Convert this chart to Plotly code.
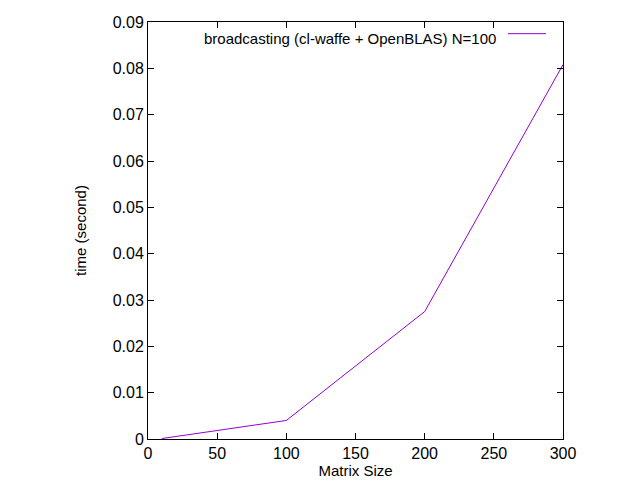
import plotly.graph_objects as go

matrix_size = [10, 100, 200, 300]
time_sec = [0.0001, 0.004, 0.0275, 0.0808]
y_ticks = [0, 0.01, 0.02, 0.03, 0.04, 0.05, 0.06, 0.07, 0.08, 0.09]
y_labels = ["0", "0.01", "0.02", "0.03", "0.04", "0.05", "0.06", "0.07", "0.08", "0.09"]
series_name = "broadcasting (cl-waffe + OpenBLAS) N=100"

fig = go.Figure()
fig.add_trace(go.Scatter(x=matrix_size, y=time_sec, mode="lines",
                         line=dict(color="#9400d3", width=1), showlegend=False))

axis_style = dict(showgrid=False, zeroline=False, showline=True, linecolor="black",
                  linewidth=1, mirror="allticks", ticks="inside", ticklen=6,
                  tickcolor="black", tickfont=dict(size=16, color="black"), automargin=False)
fig.update_xaxes(range=[0, 300], dtick=50, title=dict(text="Matrix Size", font=dict(size=15), standoff=4), **axis_style)
fig.update_yaxes(range=[0, 0.09], tickvals=y_ticks, ticktext=y_labels,
                 title=dict(text="time (second)", font=dict(size=15), standoff=22), **axis_style)

fig.add_annotation(x=(490 - 140) / 415, y=0.985, xref="paper", yref="paper", xanchor="right", yanchor="top",
                   text=series_name, showarrow=False, font=dict(size=15, color="black"))
fig.add_shape(type="line", xref="paper", yref="paper", x0=(500 - 140) / 415, x1=(538 - 140) / 415,
              y0=0.972, y1=0.972, line=dict(color="#9400d3", width=1))

fig.update_layout(width=640, height=480, plot_bgcolor="white", paper_bgcolor="white",
                  font=dict(family="Liberation Sans, Arial", color="black"),
                  margin=dict(l=140, r=85, t=14, b=49))
fig.write_html("out.html")
